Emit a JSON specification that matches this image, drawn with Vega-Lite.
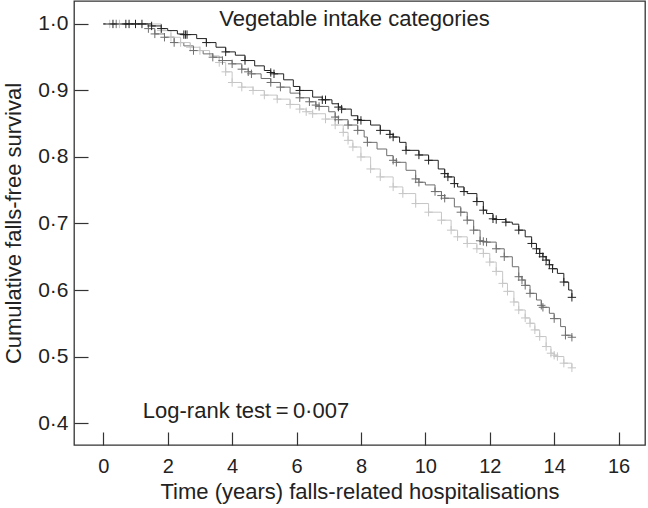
{
  "$schema": "https://vega.github.io/schema/vega-lite/v6.json",
  "width": 571,
  "height": 444,
  "autosize": {"type": "none"},
  "padding": {"left": 74, "top": 1, "right": 3, "bottom": 63},
  "background": "white",
  "config": {
    "view": {"stroke": "#333333", "strokeWidth": 1.3},
    "font": "Liberation Sans",
    "axis": {"labelFont": "Liberation Sans", "titleFont": "Liberation Sans", "labelColor": "#222222", "titleColor": "#222222", "titleFontWeight": "normal", "grid": false, "domain": false, "tickColor": "#333333", "tickWidth": 1.2}
  },
  "datasets": {
    "km": [
      {"g":"Q1","t":0,"s":1.0,"c":0},{"g":"Q1","t":0.2,"s":1.0,"c":1},{"g":"Q1","t":0.5,"s":1.0,"c":1},{"g":"Q1","t":1.6,"s":1.0,"c":0},{"g":"Q1","t":1.8,"s":0.99,"c":1},{"g":"Q1","t":2.1,"s":0.98,"c":1},{"g":"Q1","t":2.4,"s":0.972,"c":1},{"g":"Q1","t":2.7,"s":0.965,"c":1},{"g":"Q1","t":3.0,"s":0.96,"c":1},{"g":"Q1","t":3.3,"s":0.952,"c":0},{"g":"Q1","t":3.6,"s":0.942,"c":1},{"g":"Q1","t":3.8,"s":0.928,"c":1},{"g":"Q1","t":4.0,"s":0.912,"c":1},{"g":"Q1","t":4.3,"s":0.905,"c":1},{"g":"Q1","t":4.65,"s":0.9,"c":1},{"g":"Q1","t":5.0,"s":0.893,"c":1},{"g":"Q1","t":5.4,"s":0.887,"c":1},{"g":"Q1","t":5.8,"s":0.879,"c":1},{"g":"Q1","t":6.1,"s":0.872,"c":1},{"g":"Q1","t":6.3,"s":0.868,"c":1},{"g":"Q1","t":6.5,"s":0.865,"c":1},{"g":"Q1","t":6.9,"s":0.857,"c":1},{"g":"Q1","t":7.2,"s":0.848,"c":1},{"g":"Q1","t":7.45,"s":0.837,"c":1},{"g":"Q1","t":7.6,"s":0.825,"c":1},{"g":"Q1","t":7.75,"s":0.815,"c":1},{"g":"Q1","t":8.0,"s":0.8,"c":1},{"g":"Q1","t":8.3,"s":0.782,"c":1},{"g":"Q1","t":8.6,"s":0.77,"c":1},{"g":"Q1","t":9.0,"s":0.755,"c":1},{"g":"Q1","t":9.3,"s":0.745,"c":1},{"g":"Q1","t":9.7,"s":0.73,"c":1},{"g":"Q1","t":10.1,"s":0.717,"c":1},{"g":"Q1","t":10.5,"s":0.705,"c":1},{"g":"Q1","t":10.8,"s":0.69,"c":1},{"g":"Q1","t":11.0,"s":0.68,"c":1},{"g":"Q1","t":11.3,"s":0.67,"c":1},{"g":"Q1","t":11.6,"s":0.662,"c":1},{"g":"Q1","t":11.8,"s":0.655,"c":1},{"g":"Q1","t":12.0,"s":0.642,"c":1},{"g":"Q1","t":12.2,"s":0.628,"c":1},{"g":"Q1","t":12.4,"s":0.61,"c":1},{"g":"Q1","t":12.55,"s":0.598,"c":1},{"g":"Q1","t":12.75,"s":0.582,"c":1},{"g":"Q1","t":12.9,"s":0.57,"c":1},{"g":"Q1","t":13.1,"s":0.558,"c":1},{"g":"Q1","t":13.25,"s":0.55,"c":1},{"g":"Q1","t":13.4,"s":0.54,"c":1},{"g":"Q1","t":13.55,"s":0.53,"c":1},{"g":"Q1","t":13.75,"s":0.515,"c":1},{"g":"Q1","t":13.9,"s":0.505,"c":1},{"g":"Q1","t":14.0,"s":0.502,"c":1},{"g":"Q1","t":14.1,"s":0.5,"c":1},{"g":"Q1","t":14.3,"s":0.49,"c":1},{"g":"Q1","t":14.55,"s":0.483,"c":1},

      {"g":"Q2","t":0,"s":1.0,"c":0},{"g":"Q2","t":0.4,"s":1.0,"c":1},{"g":"Q2","t":1.3,"s":1.0,"c":0},{"g":"Q2","t":1.4,"s":0.993,"c":1},{"g":"Q2","t":1.6,"s":0.985,"c":1},{"g":"Q2","t":1.9,"s":0.98,"c":1},{"g":"Q2","t":2.2,"s":0.972,"c":1},{"g":"Q2","t":2.5,"s":0.967,"c":0},{"g":"Q2","t":2.8,"s":0.96,"c":1},{"g":"Q2","t":3.1,"s":0.955,"c":0},{"g":"Q2","t":3.4,"s":0.95,"c":1},{"g":"Q2","t":3.7,"s":0.945,"c":1},{"g":"Q2","t":4.0,"s":0.94,"c":1},{"g":"Q2","t":4.3,"s":0.932,"c":1},{"g":"Q2","t":4.5,"s":0.928,"c":1},{"g":"Q2","t":4.6,"s":0.925,"c":1},{"g":"Q2","t":4.9,"s":0.918,"c":0},{"g":"Q2","t":5.2,"s":0.912,"c":1},{"g":"Q2","t":5.5,"s":0.905,"c":1},{"g":"Q2","t":5.8,"s":0.896,"c":0},{"g":"Q2","t":6.1,"s":0.889,"c":1},{"g":"Q2","t":6.4,"s":0.883,"c":1},{"g":"Q2","t":6.6,"s":0.878,"c":1},{"g":"Q2","t":6.7,"s":0.876,"c":1},{"g":"Q2","t":7.0,"s":0.868,"c":0},{"g":"Q2","t":7.2,"s":0.86,"c":1},{"g":"Q2","t":7.3,"s":0.856,"c":1},{"g":"Q2","t":7.6,"s":0.848,"c":1},{"g":"Q2","t":7.9,"s":0.84,"c":1},{"g":"Q2","t":8.1,"s":0.83,"c":0},{"g":"Q2","t":8.2,"s":0.822,"c":1},{"g":"Q2","t":8.5,"s":0.812,"c":0},{"g":"Q2","t":8.8,"s":0.802,"c":0},{"g":"Q2","t":9.0,"s":0.795,"c":1},{"g":"Q2","t":9.1,"s":0.792,"c":1},{"g":"Q2","t":9.4,"s":0.78,"c":0},{"g":"Q2","t":9.7,"s":0.767,"c":1},{"g":"Q2","t":9.8,"s":0.762,"c":1},{"g":"Q2","t":10.0,"s":0.758,"c":0},{"g":"Q2","t":10.3,"s":0.748,"c":1},{"g":"Q2","t":10.5,"s":0.742,"c":1},{"g":"Q2","t":10.6,"s":0.738,"c":1},{"g":"Q2","t":10.9,"s":0.725,"c":0},{"g":"Q2","t":11.1,"s":0.717,"c":1},{"g":"Q2","t":11.3,"s":0.705,"c":1},{"g":"Q2","t":11.5,"s":0.69,"c":1},{"g":"Q2","t":11.7,"s":0.674,"c":1},{"g":"Q2","t":11.8,"s":0.673,"c":1},{"g":"Q2","t":11.9,"s":0.672,"c":1},{"g":"Q2","t":12.2,"s":0.662,"c":1},{"g":"Q2","t":12.45,"s":0.65,"c":1},{"g":"Q2","t":12.7,"s":0.635,"c":0},{"g":"Q2","t":12.9,"s":0.62,"c":1},{"g":"Q2","t":13.0,"s":0.615,"c":1},{"g":"Q2","t":13.1,"s":0.607,"c":1},{"g":"Q2","t":13.25,"s":0.595,"c":1},{"g":"Q2","t":13.45,"s":0.585,"c":0},{"g":"Q2","t":13.6,"s":0.577,"c":1},{"g":"Q2","t":13.65,"s":0.574,"c":1},{"g":"Q2","t":13.85,"s":0.565,"c":0},{"g":"Q2","t":14.0,"s":0.557,"c":1},{"g":"Q2","t":14.2,"s":0.545,"c":0},{"g":"Q2","t":14.35,"s":0.532,"c":1},{"g":"Q2","t":14.55,"s":0.529,"c":1},

      {"g":"Q3","t":0,"s":1.0,"c":0},{"g":"Q3","t":0.3,"s":1.0,"c":1},{"g":"Q3","t":0.7,"s":1.0,"c":1},{"g":"Q3","t":0.8,"s":1.0,"c":1},{"g":"Q3","t":1.0,"s":1.0,"c":1},{"g":"Q3","t":1.2,"s":1.0,"c":1},{"g":"Q3","t":1.4,"s":1.0,"c":0},{"g":"Q3","t":1.5,"s":0.997,"c":1},{"g":"Q3","t":1.8,"s":0.993,"c":1},{"g":"Q3","t":2.0,"s":0.99,"c":0},{"g":"Q3","t":2.3,"s":0.985,"c":0},{"g":"Q3","t":2.5,"s":0.984,"c":1},{"g":"Q3","t":2.55,"s":0.984,"c":1},{"g":"Q3","t":2.6,"s":0.984,"c":1},{"g":"Q3","t":2.9,"s":0.978,"c":0},{"g":"Q3","t":3.2,"s":0.972,"c":1},{"g":"Q3","t":3.5,"s":0.965,"c":0},{"g":"Q3","t":3.8,"s":0.958,"c":1},{"g":"Q3","t":4.1,"s":0.953,"c":0},{"g":"Q3","t":4.4,"s":0.945,"c":1},{"g":"Q3","t":4.7,"s":0.937,"c":0},{"g":"Q3","t":5.0,"s":0.93,"c":0},{"g":"Q3","t":5.2,"s":0.927,"c":1},{"g":"Q3","t":5.3,"s":0.925,"c":1},{"g":"Q3","t":5.6,"s":0.916,"c":0},{"g":"Q3","t":5.9,"s":0.906,"c":0},{"g":"Q3","t":6.1,"s":0.9,"c":1},{"g":"Q3","t":6.5,"s":0.89,"c":0},{"g":"Q3","t":6.8,"s":0.886,"c":1},{"g":"Q3","t":6.9,"s":0.886,"c":1},{"g":"Q3","t":7.1,"s":0.88,"c":0},{"g":"Q3","t":7.3,"s":0.875,"c":1},{"g":"Q3","t":7.4,"s":0.872,"c":1},{"g":"Q3","t":7.7,"s":0.862,"c":0},{"g":"Q3","t":7.9,"s":0.856,"c":1},{"g":"Q3","t":8.0,"s":0.855,"c":1},{"g":"Q3","t":8.3,"s":0.848,"c":0},{"g":"Q3","t":8.6,"s":0.84,"c":1},{"g":"Q3","t":8.9,"s":0.834,"c":1},{"g":"Q3","t":9.0,"s":0.83,"c":1},{"g":"Q3","t":9.2,"s":0.822,"c":0},{"g":"Q3","t":9.4,"s":0.81,"c":1},{"g":"Q3","t":9.8,"s":0.803,"c":1},{"g":"Q3","t":10.1,"s":0.795,"c":1},{"g":"Q3","t":10.4,"s":0.782,"c":0},{"g":"Q3","t":10.6,"s":0.775,"c":1},{"g":"Q3","t":10.7,"s":0.77,"c":1},{"g":"Q3","t":10.9,"s":0.76,"c":1},{"g":"Q3","t":11.0,"s":0.755,"c":0},{"g":"Q3","t":11.2,"s":0.748,"c":1},{"g":"Q3","t":11.3,"s":0.745,"c":0},{"g":"Q3","t":11.6,"s":0.733,"c":1},{"g":"Q3","t":11.8,"s":0.72,"c":1},{"g":"Q3","t":11.9,"s":0.715,"c":0},{"g":"Q3","t":12.1,"s":0.707,"c":1},{"g":"Q3","t":12.2,"s":0.706,"c":1},{"g":"Q3","t":12.5,"s":0.702,"c":1},{"g":"Q3","t":12.7,"s":0.699,"c":0},{"g":"Q3","t":12.9,"s":0.69,"c":1},{"g":"Q3","t":13.1,"s":0.68,"c":0},{"g":"Q3","t":13.3,"s":0.67,"c":1},{"g":"Q3","t":13.45,"s":0.662,"c":1},{"g":"Q3","t":13.55,"s":0.655,"c":1},{"g":"Q3","t":13.65,"s":0.65,"c":1},{"g":"Q3","t":13.75,"s":0.645,"c":1},{"g":"Q3","t":13.85,"s":0.638,"c":1},{"g":"Q3","t":13.95,"s":0.632,"c":1},{"g":"Q3","t":14.1,"s":0.625,"c":0},{"g":"Q3","t":14.3,"s":0.612,"c":1},{"g":"Q3","t":14.45,"s":0.6,"c":0},{"g":"Q3","t":14.55,"s":0.589,"c":1}
    ],
    "notes": [
      {"label": "Vegetable intake categories", "t": 7.8, "s": 1.007},
      {"label": "Log-rank test\u2009=\u20090·007", "t": 4.43, "s": 0.418}
    ]
  },
  "layer": [
    {
      "data": {"name": "km"},
      "mark": {"type": "line", "interpolate": "step-after", "strokeWidth": 1},
      "encoding": {
        "x": {"field": "t", "type": "quantitative", "scale": {"domain": [-0.91, 16.82], "nice": false, "zero": false},
          "axis": {"values": [0,2,4,6,8,10,12,14,16], "title": "Time (years) falls-related hospitalisations", "tickSize": -13, "labelPadding": 24, "labelFontSize": 20, "titleFontSize": 22, "titlePadding": 5}},
        "y": {"field": "s", "type": "quantitative", "scale": {"domain": [0.367, 1.0345], "nice": false, "zero": false},
          "axis": {"values": [0.4,0.5,0.6,0.7,0.8,0.9,1.0], "format": ".1f", "labelExpr": "replace(datum.label, '.', '·')", "title": "Cumulative falls-free survival", "tickSize": -14, "labelPadding": 20, "labelFontSize": 21, "titleFontSize": 22, "titlePadding": 12}},
        "color": {"field": "g", "type": "nominal", "scale": {"domain": ["Q1","Q2","Q3"], "range": ["#c6c6c6","#6e6e6e","#222222"]}, "legend": null}
      }
    },
    {
      "data": {"name": "km"},
      "transform": [{"filter": "datum.c == 1"}],
      "mark": {"type": "point", "shape": "M-1,0L1,0M0,-1L0,1", "filled": false, "size": 70, "strokeWidth": 1, "opacity": 1},
      "encoding": {
        "x": {"field": "t", "type": "quantitative"},
        "y": {"field": "s", "type": "quantitative"},
        "color": {"field": "g", "type": "nominal", "legend": null}
      }
    },
    {
      "data": {"name": "notes"},
      "mark": {"type": "text", "align": "center", "baseline": "middle", "fontSize": 22, "font": "Liberation Sans", "color": "#222222"},
      "encoding": {
        "x": {"field": "t", "type": "quantitative"},
        "y": {"field": "s", "type": "quantitative"},
        "text": {"field": "label"}
      }
    }
  ]
}
